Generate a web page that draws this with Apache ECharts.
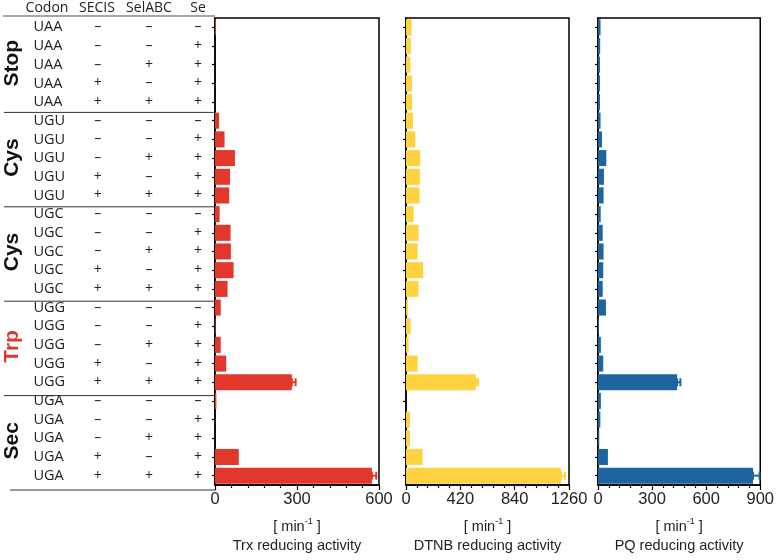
<!DOCTYPE html>
<html><head><meta charset="utf-8">
<script src="https://cdn.jsdelivr.net/npm/echarts@6/dist/echarts.min.js"></script>
<style>html,body{margin:0;padding:0;background:#fff}#c{width:777px;height:560px}</style>
</head><body><div id="c"></div>
<script>
// ---- data ----
const codons = ['UAA','UAA','UAA','UAA','UAA','UGU','UGU','UGU','UGU','UGU','UGC','UGC','UGC','UGC','UGC','UGG','UGG','UGG','UGG','UGG','UGA','UGA','UGA','UGA','UGA'];
const secis  = ['–','–','–','+','+','–','–','–','+','+','–','–','–','+','+','–','–','–','+','+','–','–','–','+','+'];
const selabc = ['–','–','+','–','+','–','–','+','–','+','–','–','+','–','+','–','–','+','–','+','–','–','+','–','+'];
const se     = ['–','+','+','+','+','–','+','+','+','+','–','+','+','+','+','–','+','+','+','+','–','+','+','+','+'];
const groups = ['Stop','Cys','Cys','Trp','Sec'];
const groupColors = ['#111','#111','#111','#E1382B','#111'];
const trx  = [3,0,0,0,0, 15,35,73,55,52, 17,57,58,68,46, 21,2,21,41,281, 5,0,0,87,574];
const dtnb = [43,38,33,46,46, 54,72,110,107,105, 59,97,90,133,95, 15,36,20,90,540, 0,31,31,128,1198];
const pq   = [14,12,11,11,11, 14,22,46,33,31, 15,26,31,29,26, 44,5,16,29,439, 16,13,7,55,860];
// upper end of error bars (row index, upper value)
const trxErr  = [[19,295],[24,590]];
const dtnbErr = [[19,558],[24,1229]];
const pqErr   = [[19,457],[24,896]];
const xMax = [600,1260,900];
const xStep = [300,420,300];
const titles = ['Trx reducing activity','DTNB reducing activity','PQ reducing activity'];
const headers = ['Codon','SECIS','SelABC','Se'];

// ---- layout ----
const TOP = 18, H = 472;
const lefts = [215, 406, 598], widths = [164, 163, 164];
const colors = ['#E1382B','#FED240','#1E64A0'];
const rowH = H / codons.length;
const cats = codons.map((_, i) => String(i));
const series = [trx, dtnb, pq];
const errs = [trxErr, dtnbErr, pqErr];
const TF = 'Open Sans';

const grids = [], xAxes = [], yAxes = [], ser = [];
for (let k = 0; k < 3; k++) {
  grids.push({left: lefts[k], width: widths[k], top: TOP, height: H, show: true, borderColor: '#000', borderWidth: 1.5, backgroundColor: 'transparent'});
  xAxes.push({
    type: 'value', gridIndex: k, min: 0, max: xMax[k], interval: xStep[k],
    axisLine: {show: true, lineStyle: {color: '#000', width: 1.5}},
    axisTick: {show: true, length: 5, lineStyle: {color: '#000', width: 1.2}},
    minorTick: {show: true, splitNumber: 5, length: 3, lineStyle: {color: '#000', width: 1.2}},
    splitLine: {show: false},
    axisLabel: {fontFamily: 'Liberation Sans', fontSize: 16.5, color: '#222', margin: 6, showMinLabel: true, showMaxLabel: true,
      formatter: v => String(v)},
    name: '[ min{sup|-1} ]\n' + titles[k],
    nameLocation: 'middle', nameGap: 32,
    nameTextStyle: {fontFamily: 'Liberation Sans', fontSize: 14.5, color: '#222', lineHeight: 19,
      rich: {sup: {fontFamily: 'Liberation Sans', fontSize: 9, verticalAlign: 'top', padding: [0,0,7,0], color: '#222'}}}
  });
  yAxes.push({
    type: 'category', gridIndex: k, data: cats, inverse: true,
    axisLine: {show: true, lineStyle: {color: '#000', width: 1.5}},
    axisTick: {show: true, length: 3, alignWithLabel: true, lineStyle: {color: '#000', width: 1.2}},
    axisLabel: k === 0 ? {
      show: true, margin: 1, interval: 0,
      formatter: (v, i) => '{c|' + codons[i] + '}{s|' + secis[i] + '}{a|' + selabc[i] + '}{e|' + se[i] + '}',
      rich: {
        c: {width: 46, align: 'left', fontFamily: TF, fontSize: 14.5, color: '#222'},
        s: {width: 36.6, align: 'center', fontFamily: TF, fontSize: 14, color: '#222'},
        a: {width: 66, align: 'center', fontFamily: TF, fontSize: 14, color: '#222'},
        e: {width: 32, align: 'center', fontFamily: TF, fontSize: 14, color: '#222'}
      }
    } : {show: false},
    splitLine: {show: false}
  });
  ser.push({
    type: 'bar', xAxisIndex: k, yAxisIndex: k, data: series[k], barCategoryGap: '14%',
    itemStyle: {color: colors[k]}, silent: true
  });
  ser.push({
    type: 'custom', xAxisIndex: k, yAxisIndex: k,
    data: errs[k].map(e => [series[k][e[0]], e[1], e[0]]),
    encode: {x: [0, 1], y: 2}, silent: true,
    renderItem: (params, api) => {
      const p0 = api.coord([api.value(0), api.value(2)]);
      const p1 = api.coord([api.value(1), api.value(2)]);
      const hh = 4;
      const st = {stroke: colors[k], lineWidth: 2};
      return {type: 'group', children: [
        {type: 'line', shape: {x1: p0[0], y1: p0[1], x2: p1[0], y2: p1[1]}, style: st},
        {type: 'line', shape: {x1: p1[0], y1: p1[1] - hh, x2: p1[0], y2: p1[1] + hh}, style: st},
        {type: 'line', shape: {x1: p0[0], y1: p0[1] - hh, x2: p0[0], y2: p0[1] + hh}, style: st}
      ]};
    }
  });
}

// ---- table decorations ----
const graphic = [];
const headerX = [47, 97, 149, 198];
headers.forEach((h, i) => graphic.push({type: 'text', x: headerX[i], y: 8,
  style: {text: h, align: 'center', verticalAlign: 'middle', font: '14px "Open Sans"', fill: '#222'}}));
graphic.push({type: 'line', shape: {x1: 3, y1: 16, x2: 215, y2: 16}, style: {stroke: '#888', lineWidth: 1.5}});
for (let g = 1; g <= groups.length; g++) {
  const y = TOP + g * 5 * rowH;
  graphic.push({type: 'line', shape: {x1: g === groups.length ? 10 : 4, y1: y, x2: 216, y2: y}, style: {stroke: '#333', lineWidth: 1}});
}
groups.forEach((g, i) => {
  const cy = TOP + (i * 5 + 2.5) * rowH - 2;
  graphic.push({type: 'text', x: 12, y: cy, rotation: Math.PI / 2,
    style: {text: g, x: 0, y: 0, align: 'center', verticalAlign: 'middle', font: 'bold 21px "Liberation Sans"', fill: groupColors[i]}});
});

const chart = echarts.init(document.getElementById('c'), null, {renderer: 'canvas'});
chart.setOption({
  backgroundColor: '#fff', animation: false,
  grid: grids, xAxis: xAxes, yAxis: yAxes, series: ser, graphic: graphic
});
</script></body></html>
